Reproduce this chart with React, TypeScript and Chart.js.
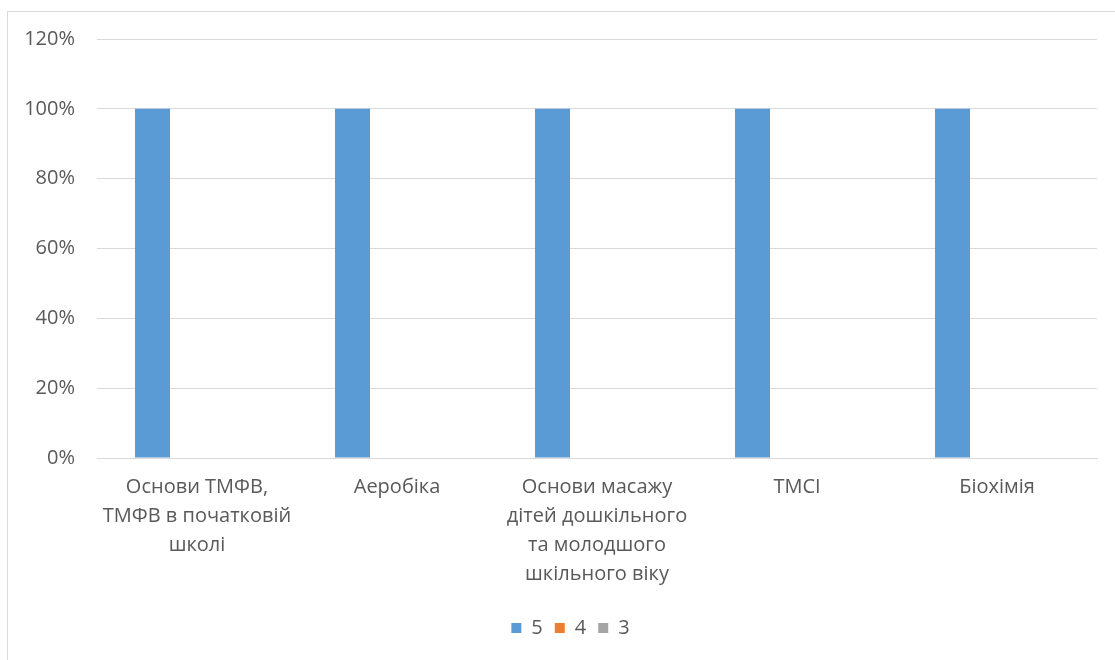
import React, { useEffect, useRef } from "react";
import { Chart, registerables } from "chart.js";

Chart.register(...registerables);

const categories: string[][] = [
  ["Основи ТМФВ,", "ТМФВ в початковій", "школі"],
  ["Аеробіка"],
  ["Основи масажу", "дітей дошкільного", "та молодшого", "шкільного віку"],
  ["ТМСІ"],
  ["Біохімія"],
];
const seriesNames = ["5", "4", "3"];
const values5 = [100, 100, 100, 100, 100];
const values4 = [0, 0, 0, 0, 0];
const values3 = [0, 0, 0, 0, 0];
const yTicks = [0, 20, 40, 60, 80, 100, 120];

const colors = ["#5B9BD5", "#ED7D31", "#A5A5A5"];
const FONT = "'Open Sans', 'Noto Sans', sans-serif";
const TEXT = "#595959";

const legendShift = {
  id: "legendShift",
  afterLayout(chart: any) {
    const lg = chart.legend;
    if (lg) {
      lg.left += 22;
      lg.right += 22;
    }
  },
};

export default function App() {
  const ref = useRef<HTMLCanvasElement | null>(null);
  useEffect(() => {
    if (!ref.current) return;
    const series = [values5, values4, values3];
    const chart = new Chart(ref.current, {
      type: "bar",
      data: {
        labels: categories,
        datasets: series.map((d, i) => ({
          label: seriesNames[i],
          data: d,
          backgroundColor: colors[i],
          borderWidth: 0,
          categoryPercentage: 0.6675,
          barPercentage: 0.7865,
        })),
      },
      plugins: [legendShift],
      options: {
        responsive: false,
        animation: false,
        layout: { padding: { top: 39, right: 18, bottom: 12, left: 0 } },
        plugins: {
          tooltip: { enabled: false },
          legend: {
            position: "bottom",
            labels: {
              boxWidth: 10,
              boxHeight: 10,
              padding: 12,
              color: TEXT,
              font: { family: FONT, size: 20 },
            },
          },
        },
        scales: {
          x: {
            grid: { display: false, drawTicks: false },
            border: { display: true, color: "#D9D9D9", width: 1 },
            ticks: {
              color: TEXT,
              font: { family: FONT, size: 20, lineHeight: 1.45 },
              padding: 15,
              maxRotation: 0,
              autoSkip: false,
            },
            afterFit: (s: any) => {
              s.height = 148;
            },
          },
          y: {
            min: 0,
            max: 120,
            afterBuildTicks: (s: any) => {
              s.ticks = yTicks.map((v) => ({ value: v }));
            },
            grid: { color: "#D9D9D9", drawTicks: false, lineWidth: 1 },
            border: { display: false },
            ticks: {
              color: TEXT,
              font: { family: FONT, size: 20 },
              padding: 22,
              callback: (v: any) => v + "%",
            },
            afterFit: (s: any) => {
              s.width = 97;
            },
          },
        },
      },
    });
    return () => chart.destroy();
  }, []);

  return (
    <div style={{ position: "fixed", left: 0, top: 0, width: 1115, height: 660, background: "#fff", overflow: "hidden" }}>
      <div
        style={{
          position: "absolute",
          left: 7,
          top: 11,
          width: 1200,
          height: 800,
          border: "1px solid #D9D9D9",
          boxSizing: "border-box",
        }}
      />
      <canvas ref={ref} width={1115} height={660} style={{ position: "absolute", left: 0, top: 0, width: 1115, height: 660 }} />
    </div>
  );
}
